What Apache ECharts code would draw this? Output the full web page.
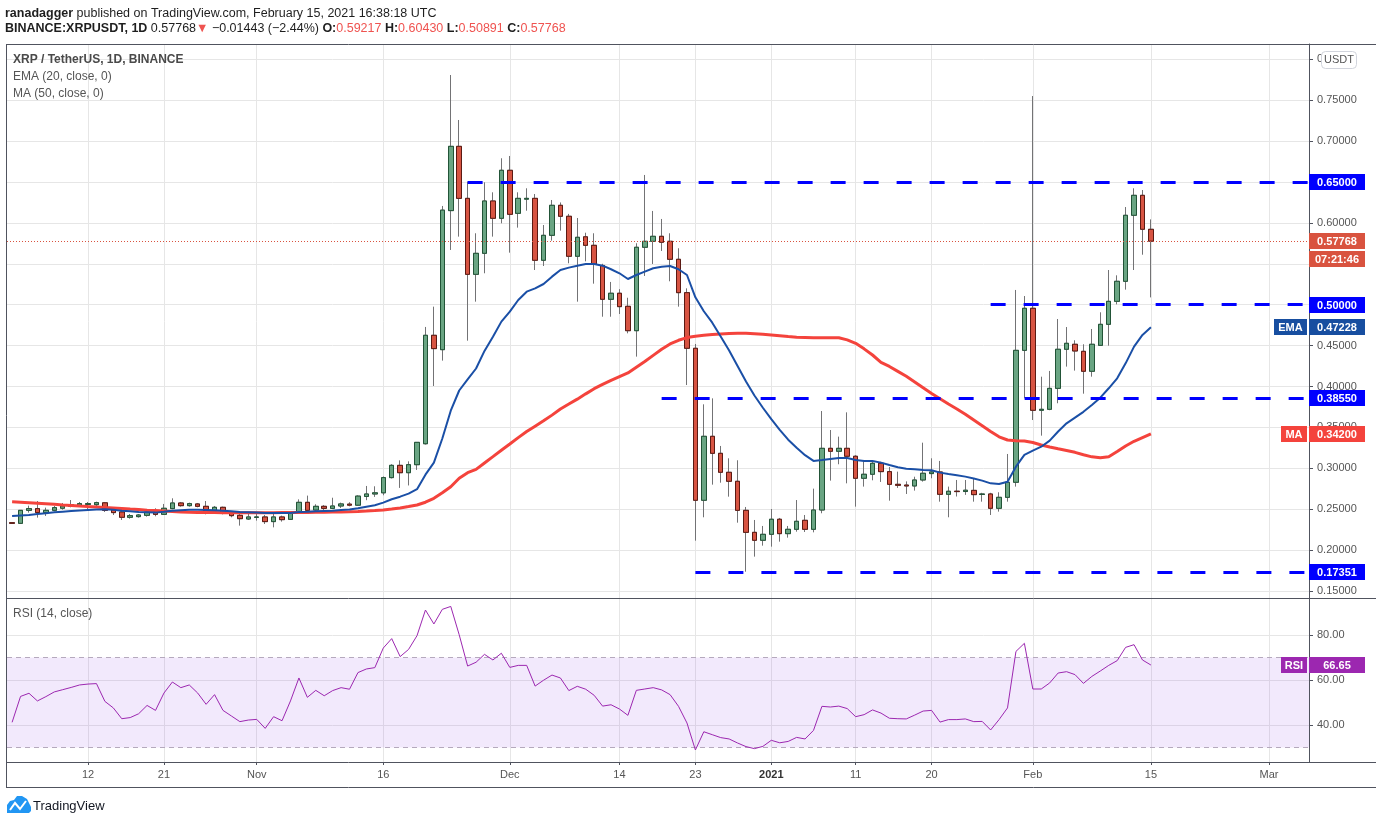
<!DOCTYPE html>
<html><head><meta charset="utf-8">
<script src="https://cdn.jsdelivr.net/npm/echarts@6/dist/echarts.min.js"></script>
<style>html,body{margin:0;padding:0;background:#fff}#c{width:1376px;height:824px}</style>
</head><body><div id="c"></div>
<script>
// Daily candles, XRP/USDT, day 0 = 2020-10-03 ... day 135 = 2021-02-15
const opens = [
0.2335,0.2327,0.2486,0.2507,0.2458,0.2486,0.2512,0.2535,0.2549,0.2558,
0.2555,0.2578,0.2490,0.2466,0.2401,0.2409,0.2425,0.2466,0.2437,0.2507,
0.2576,0.2543,0.2564,0.2535,0.2482,0.2523,0.2454,0.2425,0.2380,0.2400,
0.2405,0.2348,0.2405,0.2376,0.2462,0.2584,0.2490,0.2535,0.2510,0.2539,
0.2562,0.2549,0.2656,0.2686,0.2700,0.2886,0.3036,0.2946,0.3044,0.3300,
0.4626,0.4450,0.6150,0.6936,0.6300,0.5371,0.5628,0.6268,0.6056,0.6643,
0.6117,0.6290,0.6300,0.5543,0.5848,0.6215,0.6081,0.5592,0.5830,0.5726,
0.5480,0.5066,0.5140,0.4980,0.4682,0.5702,0.5775,0.5836,0.5775,0.5555,
0.5147,0.4467,0.2609,0.3391,0.3183,0.2951,0.2841,0.2486,0.2217,0.2120,
0.2193,0.2377,0.2201,0.2254,0.2364,0.2254,0.2490,0.3244,0.3208,0.3244,
0.3147,0.2878,0.2927,0.3061,0.2959,0.2804,0.2795,0.2784,0.2857,0.2935,
0.2955,0.2682,0.2720,0.2716,0.2730,0.2680,0.2686,0.2511,0.2645,0.2829,
0.4442,0.4956,0.3709,0.3721,0.3977,0.4455,0.4516,0.4430,0.4186,0.4503,
0.4760,0.5041,0.5286,0.6093,0.6337,0.59217];
const highs = [
0.2340,0.2490,0.2543,0.2600,0.2519,0.2539,0.2576,0.2612,0.2588,0.2588,
0.2592,0.2588,0.2502,0.2490,0.2441,0.2441,0.2502,0.2511,0.2564,0.2633,
0.2588,0.2580,0.2576,0.2600,0.2539,0.2531,0.2458,0.2450,0.2458,0.2450,
0.2429,0.2446,0.2421,0.2474,0.2620,0.2666,0.2560,0.2550,0.2640,0.2580,
0.2585,0.2670,0.2784,0.2780,0.2900,0.3050,0.3097,0.3085,0.3317,0.4728,
0.4976,0.6207,0.7808,0.7258,0.6504,0.5873,0.6496,0.6374,0.6790,0.6818,
0.6374,0.6423,0.6353,0.5974,0.6280,0.6250,0.6110,0.6060,0.5880,0.5873,
0.5500,0.5278,0.5190,0.5085,0.5751,0.6586,0.6146,0.6048,0.5873,0.5690,
0.5200,0.4520,0.3782,0.3855,0.3273,0.3122,0.3098,0.2527,0.2368,0.2295,
0.2502,0.2393,0.2295,0.2612,0.2429,0.2751,0.3700,0.3468,0.3387,0.3684,
0.3160,0.3101,0.3101,0.3080,0.3015,0.2959,0.2840,0.2897,0.3313,0.3122,
0.3090,0.2776,0.2857,0.2857,0.2869,0.2700,0.2700,0.2707,0.3175,0.5180,
0.5106,0.7551,0.4120,0.4190,0.4825,0.4727,0.4565,0.4516,0.4703,0.4907,
0.5424,0.5359,0.6194,0.6423,0.6402,0.60430];
const lows = [
0.2320,0.2320,0.2458,0.2397,0.2417,0.2474,0.2494,0.2523,0.2531,0.2490,
0.2539,0.2466,0.2429,0.2368,0.2384,0.2397,0.2409,0.2413,0.2429,0.2499,
0.2531,0.2531,0.2523,0.2437,0.2474,0.2437,0.2401,0.2299,0.2368,0.2360,
0.2319,0.2278,0.2348,0.2368,0.2450,0.2462,0.2465,0.2465,0.2500,0.2515,
0.2535,0.2540,0.2610,0.2650,0.2670,0.2875,0.2760,0.2790,0.2980,0.3290,
0.4006,0.4316,0.5669,0.5832,0.4560,0.5037,0.5384,0.5832,0.5995,0.5636,
0.5942,0.6149,0.5424,0.5473,0.5783,0.5905,0.5506,0.5037,0.5530,0.5257,
0.4853,0.4853,0.4886,0.4650,0.4365,0.5351,0.5498,0.5657,0.5286,0.4976,
0.4018,0.2115,0.2401,0.2800,0.2824,0.2653,0.2335,0.1736,0.1920,0.2054,
0.2042,0.2103,0.2152,0.2225,0.2221,0.2217,0.2450,0.2849,0.3049,0.2816,
0.2531,0.2776,0.2853,0.2833,0.2604,0.2760,0.2686,0.2727,0.2837,0.2878,
0.2592,0.2401,0.2655,0.2675,0.2592,0.2592,0.2429,0.2470,0.2592,0.2776,
0.3855,0.3590,0.3399,0.3710,0.3795,0.4243,0.4194,0.3912,0.4120,0.4500,
0.4499,0.5004,0.5184,0.5424,0.5611,0.50891];
const closes = [
0.2327,0.2486,0.2507,0.2458,0.2486,0.2519,0.2539,0.2555,0.2568,0.2568,
0.2580,0.2486,0.2458,0.2401,0.2421,0.2429,0.2466,0.2437,0.2511,0.2576,
0.2543,0.2568,0.2535,0.2482,0.2523,0.2450,0.2421,0.2384,0.2405,0.2405,
0.2348,0.2405,0.2372,0.2462,0.2584,0.2486,0.2535,0.2510,0.2539,0.2564,
0.2549,0.2660,0.2686,0.2700,0.2886,0.3036,0.2946,0.3044,0.3317,0.4626,
0.4463,0.6156,0.6936,0.6300,0.5371,0.5628,0.6268,0.6056,0.6643,0.6105,
0.6300,0.6300,0.5543,0.5848,0.6215,0.6081,0.5592,0.5824,0.5726,0.5494,
0.5066,0.5140,0.4976,0.4682,0.5702,0.5775,0.5836,0.5763,0.5555,0.5147,
0.4467,0.2609,0.3391,0.3183,0.2951,0.2841,0.2486,0.2217,0.2120,0.2193,
0.2377,0.2201,0.2254,0.2352,0.2254,0.2490,0.3244,0.3208,0.3244,0.3147,
0.2878,0.2927,0.3061,0.2959,0.2804,0.2792,0.2784,0.2857,0.2939,0.2955,
0.2682,0.2719,0.2715,0.2732,0.2678,0.2686,0.2511,0.2645,0.2829,0.4442,
0.4956,0.3709,0.3721,0.3977,0.4455,0.4528,0.4434,0.4186,0.4516,0.4760,
0.5041,0.5286,0.6093,0.6337,0.5922,0.57768];
const ema20 = [
0.2417,0.2423,0.2429,0.2440,0.2450,0.2462,0.2470,0.2478,0.2485,0.2490,
0.2495,0.2499,0.2492,0.2482,0.2474,0.2466,0.2462,0.2458,0.2468,0.2482,
0.2488,0.2494,0.2494,0.2490,0.2486,0.2482,0.2474,0.2466,0.2462,0.2458,
0.2454,0.2454,0.2452,0.2454,0.2466,0.2468,0.2474,0.2478,0.2482,0.2490,
0.2495,0.2512,0.2530,0.2548,0.2580,0.2622,0.2653,0.2690,0.2745,0.2922,
0.3070,0.3364,0.3704,0.3951,0.4086,0.4220,0.4435,0.4609,0.4793,0.4915,
0.5057,0.5159,0.5200,0.5253,0.5343,0.5424,0.5453,0.5477,0.5498,0.5498,
0.5477,0.5433,0.5384,0.5314,0.5363,0.5404,0.5445,0.5465,0.5473,0.5433,
0.5363,0.5090,0.4920,0.4780,0.4610,0.4440,0.4250,0.4060,0.3890,0.3740,
0.3600,0.3470,0.3350,0.3250,0.3160,0.3090,0.3100,0.3113,0.3126,0.3126,
0.3101,0.3090,0.3090,0.3069,0.3040,0.3012,0.2995,0.2987,0.2979,0.2975,
0.2947,0.2930,0.2914,0.2898,0.2874,0.2849,0.2816,0.2808,0.2836,0.3020,
0.3163,0.3215,0.3264,0.3338,0.3450,0.3550,0.3620,0.3690,0.3774,0.3863,
0.3978,0.4100,0.4283,0.4487,0.4630,0.47228];
const ma50 = [
0.2592,0.2586,0.2580,0.2574,0.2567,0.2560,0.2552,0.2546,0.2539,0.2533,
0.2528,0.2521,0.2515,0.2508,0.2501,0.2495,0.2488,0.2483,0.2478,0.2472,
0.2466,0.2463,0.2460,0.2459,0.2458,0.2457,0.2457,0.2456,0.2456,0.2456,
0.2456,0.2457,0.2458,0.2459,0.2460,0.2461,0.2462,0.2463,0.2465,0.2467,
0.2469,0.2472,0.2477,0.2483,0.2490,0.2501,0.2515,0.2532,0.2551,0.2585,
0.2633,0.2700,0.2775,0.2878,0.2946,0.2987,0.3065,0.3142,0.3220,0.3297,
0.3375,0.3450,0.3515,0.3580,0.3650,0.3725,0.3785,0.3845,0.3910,0.3973,
0.4025,0.4075,0.4120,0.4165,0.4235,0.4305,0.4380,0.4455,0.4520,0.4565,
0.4598,0.4615,0.4625,0.4635,0.4642,0.4648,0.4650,0.4650,0.4645,0.4638,
0.4630,0.4620,0.4610,0.4601,0.4599,0.4597,0.4597,0.4597,0.4595,0.4570,
0.4528,0.4460,0.4385,0.4295,0.4245,0.4185,0.4125,0.4055,0.3985,0.3915,
0.3850,0.3785,0.3725,0.3660,0.3590,0.3520,0.3450,0.3385,0.3346,0.3338,
0.3334,0.3315,0.3285,0.3260,0.3238,0.3218,0.3195,0.3165,0.3140,0.3130,
0.3142,0.3205,0.3273,0.3330,0.3375,0.3420];
const rsi14 = [
41.2,52.7,54.1,50.7,52.6,54.7,55.7,56.7,57.8,58.2,
58.4,50.5,47.6,42.8,43.3,45.0,48.7,46.5,54.2,59.1,
56.6,57.8,54.2,49.2,53.5,46.5,44.0,41.5,42.2,42.5,
38.5,43.7,41.9,50.7,60.9,52.3,55.4,53.0,55.3,56.6,
55.9,63.3,64.9,65.5,74.2,78.4,70.4,73.6,79.7,91.1,
84.9,91.4,92.7,80.1,66.2,67.9,71.4,68.9,71.9,65.6,
66.5,66.5,57.3,59.9,62.2,60.9,55.3,57.2,55.9,53.2,
48.4,49.0,47.1,44.3,55.4,56.0,56.6,55.6,53.5,48.3,
40.9,28.9,37.0,35.7,34.4,33.8,32.0,30.4,29.5,30.5,
33.2,32.1,32.7,34.5,33.8,37.6,48.3,48.0,48.4,47.3,
43.7,44.6,46.7,45.3,43.0,42.8,42.7,44.4,46.2,46.5,
41.3,42.4,42.4,42.7,41.5,41.6,37.8,42.4,47.6,72.7,
76.3,56.0,56.0,58.7,63.1,63.7,62.4,58.5,61.6,64.0,
66.5,68.6,74.5,75.7,68.9,66.65];

// axis ticks / labels
const xTickDays   = [9, 18, 29, 44, 59, 72, 81, 90, 100, 109, 121, 135, 149];
const xTickLabels = ['12','21','Nov','16','Dec','14','23','2021','11','20','Feb','15','Mar'];
const priceTicks  = [0.15,0.20,0.25,0.30,0.35,0.40,0.45,0.50,0.55,0.60,0.65,0.70,0.75,0.80];
const rsiTicks    = [40, 60, 80];
// horizontal levels drawn by the author
const levels         = [0.65, 0.50, 0.3855, 0.17351];
const levelStartDays = [54, 116, 77, 81];
const timerText = '07:21:46';

const FONT = "'Liberation Sans', Arial, sans-serif";
const X_MIN = -0.605, X_MAX = 153.74;
const UP = '#6aa583', DOWN = '#d75442', UP_B = '#225437', DOWN_B = '#5b1a13', WICK = '#737375';

const candleData = opens.map((o, i) => [i, o, closes[i], lows[i], highs[i]]);
const bodyData = opens.map((o, i) => [i, o, closes[i], Math.min(o, closes[i]), Math.max(o, closes[i])]);
const last = closes.length - 1;
const labelMap = {};
xTickDays.forEach((d, i) => labelMap[d] = xTickLabels[i]);

const chart = echarts.init(document.getElementById('c'), null, {renderer: 'canvas'});

const staticGraphics = [
  // frame lines
  {type:'line', shape:{x1:6, y1:44.5, x2:1376, y2:44.5}, style:{stroke:'#50535e', lineWidth:1}, z:50},
  {type:'line', shape:{x1:6.5, y1:44, x2:6.5, y2:787}, style:{stroke:'#50535e', lineWidth:1}, z:50},
  {type:'line', shape:{x1:6, y1:598.5, x2:1376, y2:598.5}, style:{stroke:'#50535e', lineWidth:1}, z:50},
  {type:'line', shape:{x1:6, y1:762.5, x2:1376, y2:762.5}, style:{stroke:'#50535e', lineWidth:1}, z:50},
  {type:'line', shape:{x1:6, y1:787.5, x2:1376, y2:787.5}, style:{stroke:'#50535e', lineWidth:1}, z:50},
  // header
  {type:'text', x:5, y:14, z:50, style:{
    text:'{b|ranadagger} published on TradingView.com, February 15, 2021 16:38:18 UTC',
    verticalAlign:'middle', font:'12.5px ' + FONT, fill:'#1e1e1e',
    rich:{b:{fontWeight:'bold', fontFamily:FONT, fontSize:12.5, fill:'#1e1e1e'}}}},
  {type:'text', x:5, y:29, z:50, style:{
    text:'{b|BINANCE:XRPUSDT, 1D} 0.57768{r|▼} −0.01443 (−2.44%) {b|O:}{r|0.59217} {b|H:}{r|0.60430} {b|L:}{r|0.50891} {b|C:}{r|0.57768}',
    verticalAlign:'middle', font:'12.5px ' + FONT, fill:'#1e1e1e',
    rich:{b:{fontWeight:'bold', fontFamily:FONT, fontSize:12.5, fill:'#1e1e1e'},
          r:{fontFamily:FONT, fontSize:12.5, fill:'#ef5350'}}}},
  // pane legends
  {type:'text', x:13, y:60, z:50, style:{text:'XRP / TetherUS, 1D, BINANCE', verticalAlign:'middle', font:'bold 12px ' + FONT, fill:'#4a4a4a'}},
  {type:'text', x:13, y:77, z:50, style:{text:'EMA (20, close, 0)', verticalAlign:'middle', font:'12px ' + FONT, fill:'#555'}},
  {type:'text', x:13, y:94, z:50, style:{text:'MA (50, close, 0)', verticalAlign:'middle', font:'12px ' + FONT, fill:'#555'}},
  {type:'text', x:13, y:614, z:50, style:{text:'RSI (14, close)', verticalAlign:'middle', font:'12px ' + FONT, fill:'#555'}},
  // USDT badge
  {type:'rect', shape:{x:1321.5, y:51.5, width:35, height:17, r:4}, style:{fill:'#fff', stroke:'#d1d4dc', lineWidth:1}, z:60},
  {type:'text', z:61, style:{text:'USDT', x:1339, y:60, align:'center', verticalAlign:'middle', font:'11px ' + FONT, fill:'#555'}},
  // footer logo
  {type:'polygon', z:50, shape:{points:[[7,813],[7,805],[10,801],[14,800],[17,796],[22,796],[27,799],[29,803],[31,807],[31,811],[29,813]]}, style:{fill:'#2196f3'}},
  {type:'polyline', z:51, shape:{points:[[10,810],[15,803],[20,809],[26,801]]}, style:{stroke:'#fff', lineWidth:2, fill:null}},
  {type:'text', x:33, y:806, z:50, style:{text:'TradingView', verticalAlign:'middle', font:'13px ' + FONT, fill:'#131722'}}
];

const option = {
  animation: false,
  backgroundColor: '#fff',
  textStyle: {fontFamily: FONT},
  grid: [
    {left: 7, right: 67, top: 44, height: 555},
    {left: 7, right: 67, top: 599, height: 163}
  ],
  xAxis: [
    {type:'value', gridIndex:0, min:X_MIN, max:X_MAX,
     axisLine:{show:false, onZero:false}, axisLabel:{show:false},
     axisTick:{show:false, customValues:xTickDays},
     splitLine:{show:true, lineStyle:{color:'#e6e6e6', width:1}}},
    {type:'value', gridIndex:1, min:X_MIN, max:X_MAX,
     axisLine:{show:false, onZero:false},
     axisTick:{show:true, customValues:xTickDays, length:3, inside:false, lineStyle:{color:'#50535e'}},
     axisLabel:{customValues:xTickDays, margin:7, fontSize:11, color:'#555', fontFamily:FONT,
       formatter: v => { const t = labelMap[Math.round(v)] || ''; return /^\d{4}$/.test(t) ? '{y|' + t + '}' : t; },
       rich:{y:{fontWeight:'bold', fontSize:11, color:'#333', fontFamily:FONT}}},
     splitLine:{show:true, lineStyle:{color:'#e6e6e6', width:1}}}
  ],
  yAxis: [
    {type:'value', gridIndex:0, position:'right', min:0.1402, max:0.8187,
     axisLine:{show:true, onZero:false, lineStyle:{color:'#50535e'}},
     axisTick:{show:true, customValues:priceTicks, length:4, lineStyle:{color:'#50535e'}},
     axisLabel:{customValues:priceTicks, margin:8, fontSize:11, color:'#555', fontFamily:FONT,
       formatter: v => v.toFixed(5)},
     splitLine:{show:true, lineStyle:{color:'#e6e6e6', width:1}}},
    {type:'value', gridIndex:1, position:'right', min:23.56, max:96,
     axisLine:{show:true, onZero:false, lineStyle:{color:'#50535e'}},
     axisTick:{show:true, customValues:rsiTicks, length:4, lineStyle:{color:'#50535e'}},
     axisLabel:{customValues:rsiTicks, margin:8, fontSize:11, color:'#555', fontFamily:FONT,
       formatter: v => v.toFixed(2)},
     splitLine:{show:true, lineStyle:{color:'#e6e6e6', width:1}}}
  ],
  series: [
    {type:'candlestick', name:'wicks', xAxisIndex:0, yAxisIndex:0, barWidth:5, z:3,
     dimensions:['day','open','close','lowest','highest'],
     encode:{x:'day', y:['open','close','lowest','highest']},
     data:candleData,
     itemStyle:{color:UP, color0:DOWN, borderColor:WICK, borderColor0:WICK, borderColorDoji:WICK, borderWidth:1},
     markLine:{silent:true, symbol:['none','none'], label:{show:false}, z:10,
       data: levels.map((v, i) => [
         {coord:[levelStartDays[i], v], lineStyle:{color:'#0000ff', width:3, type:[15,18]}},
         {coord:[X_MAX, v]}
       ]).concat([[
         {coord:[X_MIN, closes[last]], lineStyle:{color:'#d9533f', width:1, type:[1,2]}},
         {coord:[X_MAX, closes[last]]}
       ]])}},
    {type:'candlestick', name:'bodies', xAxisIndex:0, yAxisIndex:0, barWidth:5, z:4,
     dimensions:['day','open','close','lowest','highest'],
     encode:{x:'day', y:['open','close','lowest','highest']},
     data:bodyData,
     itemStyle:{color:UP, color0:DOWN, borderColor:UP_B, borderColor0:DOWN_B, borderColorDoji:UP_B, borderWidth:1}},
    {type:'line', name:'MA', xAxisIndex:0, yAxisIndex:0, z:5, symbol:'none',
     data: ma50.map((v, i) => [i, v]), lineStyle:{color:'#f4433c', width:3}},
    {type:'line', name:'EMA', xAxisIndex:0, yAxisIndex:0, z:6, symbol:'none',
     data: ema20.map((v, i) => [i, v]), lineStyle:{color:'#1a4fa6', width:2}},
    {type:'line', name:'RSI', xAxisIndex:1, yAxisIndex:1, z:6, symbol:'none',
     data: rsi14.map((v, i) => [i, v]), lineStyle:{color:'#9c27b0', width:1},
     markArea:{silent:true, itemStyle:{color:'rgba(149,76,233,0.12)'}, data:[[{yAxis:30},{yAxis:70}]]},
     markLine:{silent:true, symbol:['none','none'], label:{show:false},
       lineStyle:{color:'#b5a9bd', width:1, type:[5,4]},
       data:[{yAxis:70},{yAxis:30}]}}
  ],
  graphic: staticGraphics
};
chart.setOption(option);

// price-scale badges, positioned through the chart's own y scales
function badge(axisIdx, value, text, bg, name, nameW, dy) {
  const py = Math.round(chart.convertToPixel({yAxisIndex: axisIdx}, value)) + (dy || 0);
  const els = [
    {type:'rect', z:70, shape:{x:1309, y:py - 8, width:56, height:16}, style:{fill:bg}},
    {type:'text', z:71, style:{text:text, x:1337, y:py + 0.5, align:'center', verticalAlign:'middle', font:'bold 11px ' + FONT, fill:'#fff'}}
  ];
  if (name) {
    els.push({type:'rect', z:70, shape:{x:1307 - nameW, y:py - 8, width:nameW, height:16}, style:{fill:bg}});
    els.push({type:'text', z:71, style:{text:name, x:1307 - nameW / 2, y:py + 0.5, align:'center', verticalAlign:'middle', font:'bold 11px ' + FONT, fill:'#fff'}});
  }
  return els;
}
let badges = [];
levels.forEach(v => { badges = badges.concat(badge(0, v, v.toFixed(5), '#0000ff')); });
badges = badges.concat(badge(0, closes[last], closes[last].toFixed(5), '#d9533f'));
badges = badges.concat(badge(0, closes[last], timerText, '#d9533f', null, 0, 18));
badges = badges.concat(badge(0, ema20[last], ema20[last].toFixed(5), '#174ea0', 'EMA', 33));
badges = badges.concat(badge(0, ma50[last], ma50[last].toFixed(5), '#f4433c', 'MA', 26));
badges = badges.concat(badge(1, rsi14[last], rsi14[last].toFixed(2), '#9c27b0', 'RSI', 26));
chart.setOption({graphic: staticGraphics.concat(badges)});
</script>
</body></html>
